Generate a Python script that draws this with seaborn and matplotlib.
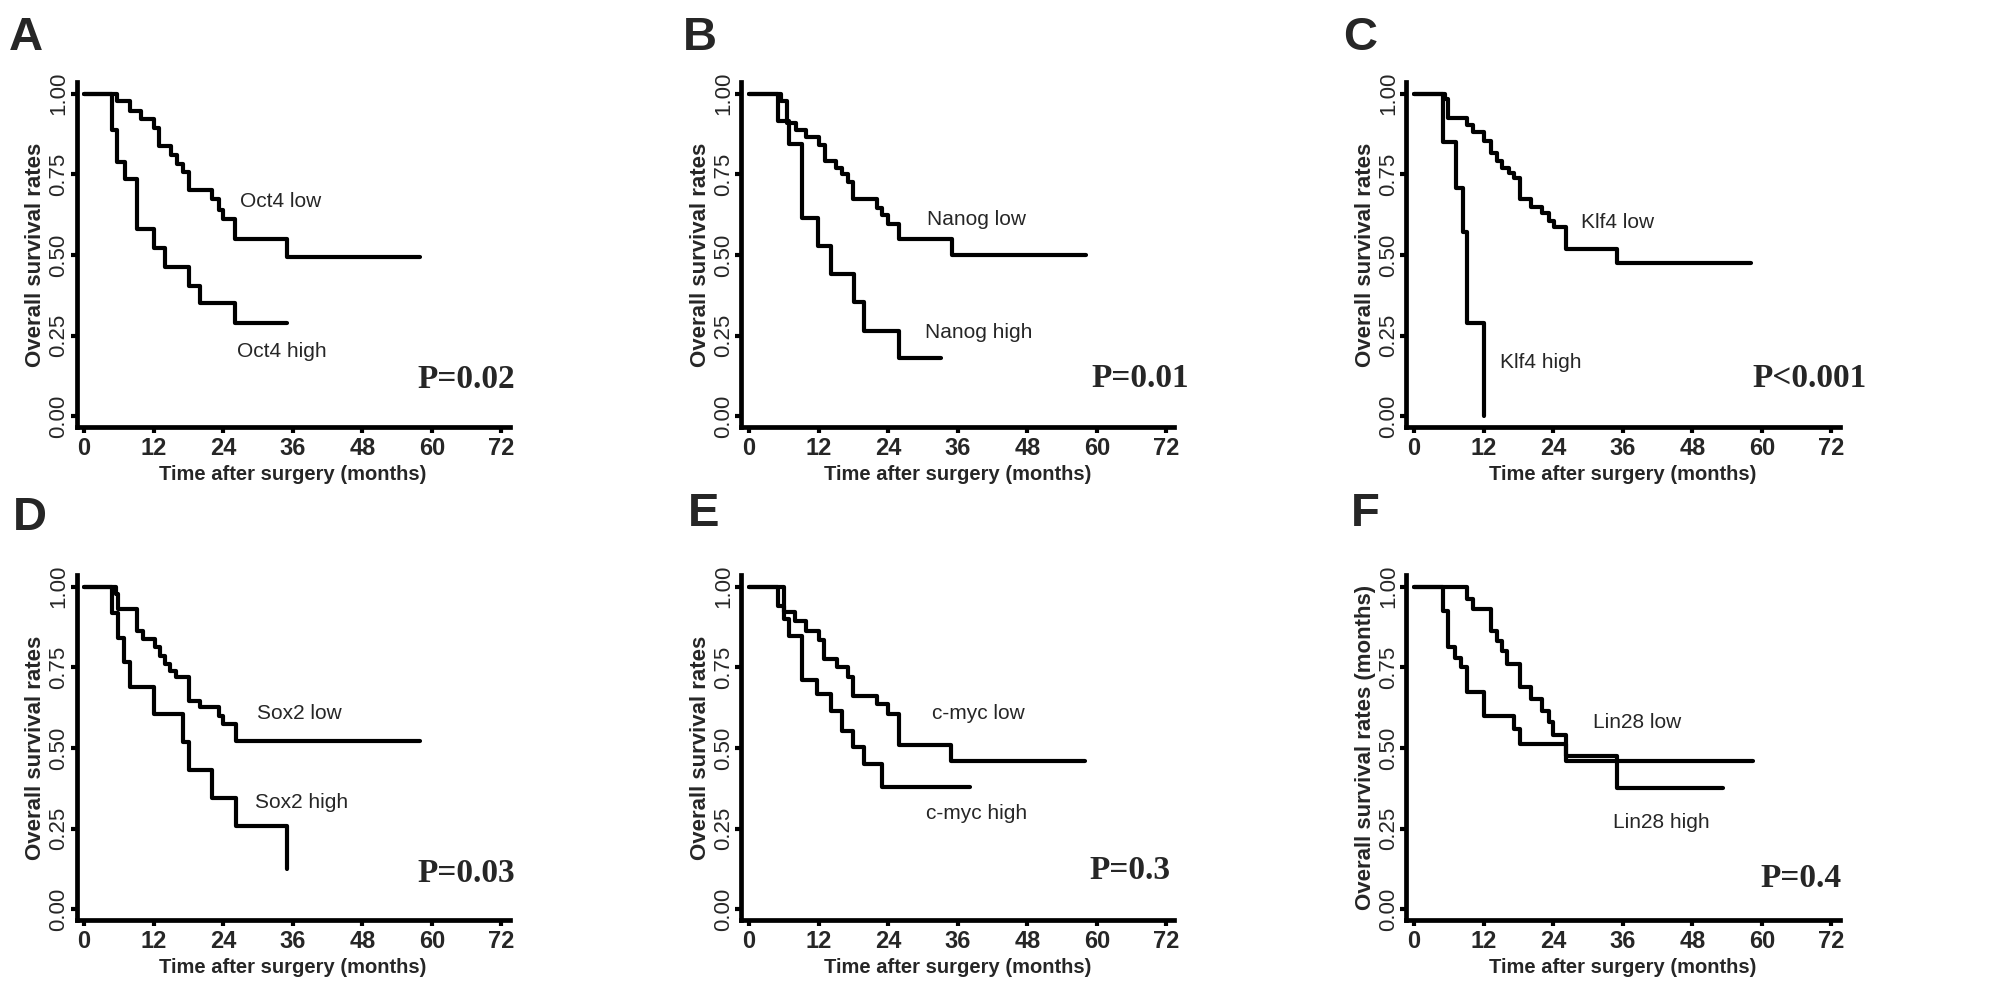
import pandas as pd
import seaborn as sns
import matplotlib.pyplot as plt

# Kaplan-Meier step points (months, survival)
oct4_low_t = [0, 5.7, 8.0, 9.9, 12.1, 13.0, 15.0, 16.0, 17.0, 18.1, 22.1, 23.2, 23.9, 26.1, 35.1, 58.0]
oct4_low_s = [1.0, 0.976, 0.945, 0.922, 0.894, 0.837, 0.811, 0.783, 0.758, 0.70, 0.672, 0.639, 0.61, 0.55, 0.493, 0.493]
oct4_high_t = [0, 4.8, 5.7, 7.1, 9.1, 12.1, 13.9, 18.1, 20.0, 26.1, 35.1]
oct4_high_s = [1.0, 0.886, 0.787, 0.734, 0.579, 0.522, 0.462, 0.404, 0.35, 0.29, 0.29]

nanog_low_t = [0, 5.6, 6.5, 8.1, 9.9, 12.1, 13.1, 15.0, 16.0, 17.0, 18.0, 22.1, 23.0, 24.0, 25.9, 35.1, 58.1]
nanog_low_s = [1.0, 0.977, 0.91, 0.888, 0.867, 0.84, 0.79, 0.77, 0.75, 0.727, 0.673, 0.647, 0.624, 0.596, 0.55, 0.50, 0.50]
nanog_high_t = [0, 5.0, 6.9, 9.1, 11.95, 14.1, 18.1, 19.9, 25.9, 33.2]
nanog_high_s = [1.0, 0.915, 0.843, 0.616, 0.529, 0.441, 0.354, 0.266, 0.18, 0.18]

klf4_low_t = [0, 5.3, 5.9, 9.2, 10.1, 12.07, 13.2, 14.3, 15.2, 16.3, 17.2, 18.3, 20.2, 22.1, 23.2, 24.1, 26.2, 35.1, 58.2]
klf4_low_s = [1.0, 0.982, 0.923, 0.902, 0.88, 0.854, 0.815, 0.79, 0.77, 0.755, 0.737, 0.673, 0.65, 0.63, 0.606, 0.586, 0.519, 0.474, 0.474]
klf4_high_t = [0, 5.06, 7.24, 8.5, 9.2, 12.07]
klf4_high_s = [1.0, 0.85, 0.709, 0.57, 0.29, 0.0]

sox2_low_t = [0, 5.6, 5.9, 9.2, 10.1, 12.2, 13.1, 14.0, 14.9, 15.9, 18.1, 20.0, 23.2, 23.9, 26.2, 58.0]
sox2_low_s = [1.0, 0.977, 0.93, 0.864, 0.838, 0.812, 0.786, 0.76, 0.74, 0.72, 0.647, 0.626, 0.60, 0.575, 0.521, 0.521]
sox2_high_t = [0, 4.9, 5.9, 6.9, 7.9, 12.07, 17.1, 18.1, 22.1, 26.2, 35.1]
sox2_high_s = [1.0, 0.917, 0.841, 0.766, 0.69, 0.606, 0.518, 0.432, 0.346, 0.258, 0.126]

cmyc_low_t = [0, 6.0, 7.9, 9.8, 12.0, 13.0, 15.1, 17.0, 18.0, 22.0, 24.0, 25.9, 34.9, 57.9]
cmyc_low_s = [1.0, 0.92, 0.893, 0.864, 0.835, 0.776, 0.75, 0.72, 0.66, 0.635, 0.604, 0.508, 0.459, 0.459]
cmyc_high_t = [0, 5.0, 6.0, 6.95, 9.1, 11.7, 14.1, 16.0, 18.0, 19.8, 22.9, 38.1]
cmyc_high_s = [1.0, 0.941, 0.90, 0.848, 0.711, 0.666, 0.616, 0.554, 0.503, 0.449, 0.38, 0.38]

lin28_low_t = [0, 9.1, 10.1, 13.2, 14.3, 15.2, 16.0, 18.3, 20.2, 22.1, 23.2, 23.9, 26.2, 58.4]
lin28_low_s = [1.0, 0.962, 0.931, 0.864, 0.833, 0.80, 0.76, 0.688, 0.652, 0.616, 0.58, 0.539, 0.459, 0.459]
lin28_high_t = [0, 5.06, 5.9, 7.1, 8.1, 9.1, 12.07, 17.2, 18.2, 26.2, 35.1, 53.3]
lin28_high_s = [1.0, 0.926, 0.812, 0.78, 0.752, 0.673, 0.60, 0.56, 0.513, 0.474, 0.377, 0.377]

x_ticks = [0, 12, 24, 36, 48, 60, 72]
y_ticks = [0.0, 0.25, 0.5, 0.75, 1.0]

# letter, gene, curves, p value text, y label
panels = [
    ("A", "Oct4", (oct4_low_t, oct4_low_s), (oct4_high_t, oct4_high_s), "P=0.02", "Overall survival rates"),
    ("B", "Nanog", (nanog_low_t, nanog_low_s), (nanog_high_t, nanog_high_s), "P=0.01", "Overall survival rates"),
    ("C", "Klf4", (klf4_low_t, klf4_low_s), (klf4_high_t, klf4_high_s), "P<0.001", "Overall survival rates"),
    ("D", "Sox2", (sox2_low_t, sox2_low_s), (sox2_high_t, sox2_high_s), "P=0.03", "Overall survival rates"),
    ("E", "c-myc", (cmyc_low_t, cmyc_low_s), (cmyc_high_t, cmyc_high_s), "P=0.3", "Overall survival rates"),
    ("F", "Lin28", (lin28_low_t, lin28_low_s), (lin28_high_t, lin28_high_s), "P=0.4", "Overall survival rates (months)"),
]

# annotation spots (data coords): low label, high label, p value
label_pos = [
    ((26.9, 0.666), (26.4, 0.20), (57.6, 0.115)),
    ((30.7, 0.611), (30.3, 0.26), (59.1, 0.117)),
    ((28.8, 0.60), (14.8, 0.168), (58.4, 0.117)),
    ((29.8, 0.606), (29.5, 0.33), (57.6, 0.11)),
    ((31.5, 0.606), (30.6, 0.296), (58.8, 0.12)),
    ((30.9, 0.58), (34.3, 0.27), (59.7, 0.095)),
]

sns.set_theme(style="ticks")
plt.rcParams['font.family'] = ['Liberation Sans', 'DejaVu Sans']

W, H = 2008, 1005
fig = plt.figure(figsize=(W / 100, H / 100), dpi=100)

# axes boxes in pixels: left, top
lefts = [76.5, 741.5, 1406.5]
tops = [82, 575]
ax_w, ax_h = 433, 345
letter_xy = [(9, 16), (683, 16), (1343, 16), (13, 496), (688, 492), (1351, 492)]

for i, (letter, gene, low, high, ptxt, ylab) in enumerate(panels):
    r, c = divmod(i, 3)
    ax = fig.add_axes([lefts[c] / W, 1 - (tops[r] + ax_h) / H, ax_w / W, ax_h / H])

    df = pd.concat([
        pd.DataFrame({"month": low[0], "surv": low[1], "grp": "low"}),
        pd.DataFrame({"month": high[0], "surv": high[1], "grp": "high"}),
    ])
    sns.lineplot(data=df, x="month", y="surv", hue="grp",
                 palette={"low": "black", "high": "black"},
                 estimator=None, sort=False, legend=False,
                 drawstyle="steps-post", linewidth=3.0, ax=ax)

    ax.set_xlim(-1.3, 73.4)
    ax.set_ylim(-0.033, 1.036)
    ax.set_xticks(x_ticks)
    ax.set_yticks(y_ticks)
    ax.set_yticklabels([f"{v:.2f}" for v in y_ticks], rotation=90, va="center",
                       fontsize=16)
    ax.set_xticklabels([str(v) for v in x_ticks], fontsize=17, fontweight="bold")
    ax.tick_params(direction="out", length=4, width=3, color="black", pad=3)
    ax.tick_params(axis="y", pad=1)
    for s in ["top", "right"]:
        ax.spines[s].set_visible(False)
    for s in ["left", "bottom"]:
        ax.spines[s].set_linewidth(3.4)
        ax.spines[s].set_color("black")
    ax.set_xlabel("Time after surgery (months)", fontsize=14.5, fontweight="bold",
                  labelpad=4)
    ax.set_ylabel(ylab, fontsize=16, fontweight="bold", labelpad=2)

    (lx, ly), (hx, hy), (px, py) = label_pos[i]
    ax.text(lx, ly, f"{gene} low", fontsize=15, va="center", ha="left")
    ax.text(hx, hy, f"{gene} high", fontsize=15, va="center", ha="left")
    ax.text(px, py, ptxt, fontsize=24, fontweight="bold", va="center", ha="left",
            family=["Liberation Serif", "DejaVu Serif"])

    fig.text(letter_xy[i][0] / W, 1 - letter_xy[i][1] / H, letter,
             fontsize=34, fontweight="bold", va="top", ha="left")

fig.savefig("out.png", dpi=100, facecolor="white")
